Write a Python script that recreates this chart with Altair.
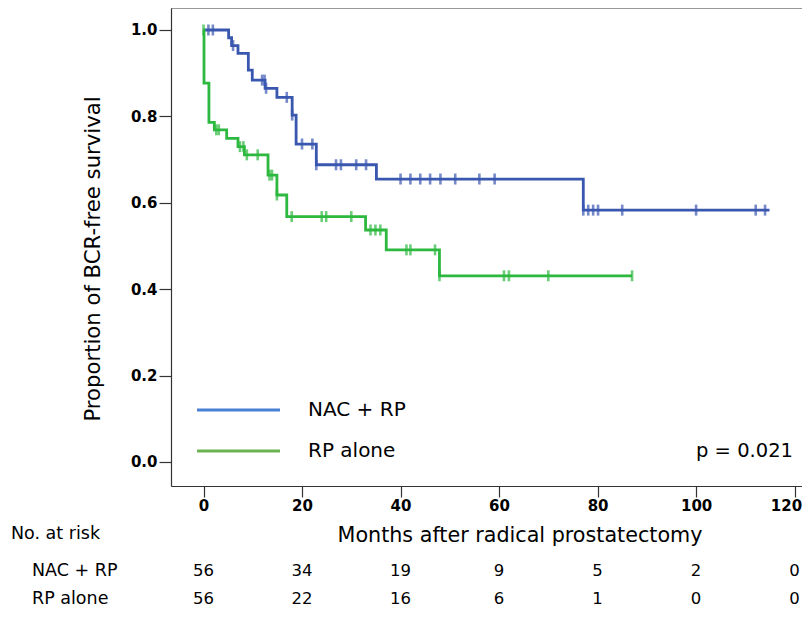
import altair as alt
import pandas as pd

# ---- data ----
nac_times = [0, 5.1, 5.7, 7.0, 9.1, 9.9, 12.5, 14.9, 18.0, 18.8, 22.9, 35.1, 77.1, 114.9]
nac_surv = [1.0, 0.982, 0.964, 0.946, 0.907, 0.884, 0.865, 0.844, 0.803, 0.736, 0.688, 0.655, 0.583, 0.583]
nac_censor = [1.0, 1.9, 6.0, 11.9, 12.4, 12.7, 16.9, 18.0, 20.0, 22.1, 22.9, 26.9, 27.9, 31.0, 33.0,
              40.0, 42.0, 44.0, 46.0, 48.1, 51.1, 56.0, 59.1, 77.1, 78.1, 79.1, 80.1, 85.0, 100.0,
              112.1, 114.0]

rp_times = [0, 0.1, 1.1, 2.2, 4.7, 7.0, 8.3, 13.1, 14.9, 16.9, 32.9, 37.1, 47.9, 87.0]
rp_surv = [1.0, 0.877, 0.786, 0.769, 0.749, 0.730, 0.711, 0.664, 0.618, 0.568, 0.537, 0.491, 0.431, 0.431]
rp_censor = [0.0, 2.6, 3.1, 7.4, 8.1, 8.8, 11.0, 13.4, 13.9, 14.9, 17.9, 24.0, 24.9, 30.0, 33.9,
             34.9, 35.9, 41.2, 42.0, 47.0, 47.9, 61.0, 62.0, 70.0, 87.0]

groups = ["NAC + RP", "RP alone"]
curve_colors = ["#3A57B0", "#2DB83F"]
legend_colors = ["#4A7FD6", "#6DB351"]

risk_times = [0, 20, 40, 60, 80, 100, 120]
risk_nac = [56, 34, 19, 9, 5, 2, 0]
risk_rp = [56, 22, 16, 6, 1, 0, 0]

x_ticks = [0, 20, 40, 60, 80, 100, 120]
y_ticks = [0.0, 0.2, 0.4, 0.6, 0.8, 1.0]

FONT = "DejaVu Sans"
W, H = 631, 478


def surv_at(t, times, surv):
    s = surv[0]
    for tt, ss in zip(times[:-1], surv[:-1]):
        if tt <= t:
            s = ss
    return s


rows = []
for g, ts, ss in [(groups[0], nac_times, nac_surv), (groups[1], rp_times, rp_surv)]:
    for i, (t, s) in enumerate(zip(ts, ss)):
        rows.append({"group": g, "t": t, "s": s, "o": i})
curves = pd.DataFrame(rows)

crow = []
for g, cs_, ts, ss in [(groups[0], nac_censor, nac_times, nac_surv),
                       (groups[1], rp_censor, rp_times, rp_surv)]:
    for c in cs_:
        crow.append({"group": g, "t": c, "s": surv_at(c, ts, ss)})
censors = pd.DataFrame(crow)

xs = alt.Scale(domain=[-6.6, 121.5], nice=False, zero=False)
ys = alt.Scale(domain=[-0.0556, 1.0509], nice=False, zero=False)
cs = alt.Scale(domain=groups, range=curve_colors)

x_enc = alt.X("t:Q", scale=xs,
              axis=alt.Axis(values=x_ticks, title=None, grid=False, tickSize=11,
                            labelFontWeight="bold", labelFontSize=15, labelPadding=1,
                            labelFont=FONT, labelColor="#000", format="d",
                            labelFlush=12, labelFlushOffset=7))
y_enc = alt.Y("s:Q", scale=ys,
              axis=alt.Axis(values=y_ticks, title=None, grid=False, tickSize=12,
                            labelFontWeight="bold", labelFontSize=15, labelPadding=2,
                            labelFont=FONT, labelColor="#000", format=".1f"))

lines = alt.Chart(curves).mark_line(interpolate="step-after", strokeWidth=2.8).encode(
    x=x_enc, y=y_enc,
    color=alt.Color("group:N", scale=cs, legend=None),
    detail="group:N", order="o:Q")

ticks = alt.Chart(censors).mark_tick(orient="vertical", size=11, thickness=2.6).encode(
    x=alt.X("t:Q", scale=xs), y=alt.Y("s:Q", scale=ys),
    color=alt.Color("group:N", scale=cs, legend=None))

one = pd.DataFrame({"a": [0]})
top_rule = alt.Chart(one).mark_rule(color="#333", strokeWidth=1.2).encode(
    x=alt.value(0), x2=alt.value(W), y=alt.value(0))

leg_df = pd.DataFrame({"group": groups, "col": legend_colors, "yy": [402, 443]})
leg_lines = alt.Chart(leg_df).mark_rule(strokeWidth=3).encode(
    x=alt.value(26), x2=alt.value(109), y=alt.Y("yy:Q", scale=None),
    color=alt.Color("col:N", scale=None))
leg_text = alt.Chart(leg_df).mark_text(align="left", baseline="middle", fontSize=20,
                                       font=FONT, color="#000").encode(
    x=alt.value(137), y=alt.Y("yy:Q", scale=None), text="group:N")

pval = alt.Chart(pd.DataFrame({"txt": ["p = 0.021"]})).mark_text(
    align="right", baseline="middle", fontSize=19.5, font=FONT, color="#000").encode(
    x=alt.value(622), y=alt.value(443), text="txt:N")

xtitle = alt.Chart(pd.DataFrame({"txt": ["Months after radical prostatectomy"]})).mark_text(
    align="center", baseline="middle", fontSize=20.7, font=FONT, color="#000").encode(
    x=alt.value(349), y=alt.value(528), text="txt:N")

ytitle = alt.Chart(pd.DataFrame({"txt": ["Proportion of BCR-free survival"]})).mark_text(
    align="center", baseline="middle", fontSize=21.2, font=FONT, color="#000", angle=270).encode(
    x=alt.value(-77), y=alt.value(251), text="txt:N")

lab_df = pd.DataFrame({"txt": ["No. at risk", "NAC + RP", "RP alone"],
                       "xx": [-160, -139, -139], "yy": [526, 563, 591]})
row_labels = alt.Chart(lab_df).mark_text(align="left", baseline="middle", fontSize=17.5,
                                         font=FONT, color="#000").encode(
    x=alt.X("xx:Q", scale=None), y=alt.Y("yy:Q", scale=None), text="txt:N")

risk_rows = []
for t, a, b in zip(risk_times, risk_nac, risk_rp):
    risk_rows.append({"t": t, "n": str(a), "yy": 563})
    risk_rows.append({"t": t, "n": str(b), "yy": 591})
risk_df = pd.DataFrame(risk_rows)
risk = alt.Chart(risk_df).mark_text(align="center", baseline="middle", fontSize=16.5,
                                    font=FONT, color="#000").encode(
    x=alt.X("t:Q", scale=xs), y=alt.Y("yy:Q", scale=None), text="n:N")

chart = alt.layer(lines, ticks, top_rule, leg_lines, leg_text, pval, xtitle, ytitle,
                  row_labels, risk).properties(
    width=W, height=H,
    autosize=alt.AutoSizeParams(type="none"),
    padding={"left": 163, "top": 0, "right": 0, "bottom": 125},
    background="white",
).configure_view(stroke=None).configure_axis(
    domainColor="#333", tickColor="#333", domainWidth=1.2, tickWidth=1.2)

chart.save("out.html", embed_options={"renderer": "svg", "actions": False})
